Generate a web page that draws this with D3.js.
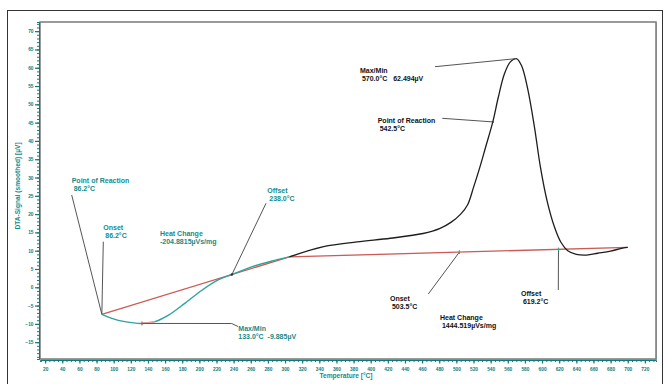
<!DOCTYPE html>
<html>
<head>
<meta charset="utf-8">
<script src="https://cdn.jsdelivr.net/npm/d3@7"></script>
<style>
  html, body { margin: 0; padding: 0; background: #fff; }
  svg { display: block; }
  text { font-family: "Liberation Sans", Arial, sans-serif; font-weight: bold; }
</style>
</head>
<body>
<svg id="chart" width="666" height="384"></svg>
<script>
// DTA measurement: temperature (°C) vs smoothed DTA signal (µV)
const firstPeakTemp  = [86.2, 97.8, 113, 133, 148, 164, 183, 203, 222, 238, 261, 285, 305];
const firstPeakValue = [-7.4, -8.5, -9.4, -9.885, -9.4, -7.6, -4.4, -0.8, 2.0, 3.5, 5.6, 7.2, 8.3];

const mainTemp  = [305, 345, 384, 423, 461, 481, 494, 505, 513, 520, 527, 534, 542.5, 549, 556, 563, 570, 576, 583, 591, 598, 606, 614.6, 622, 630, 640, 652, 665, 680, 694, 700];
const mainValue = [8.3, 11.1, 12.4, 13.4, 14.7, 16.1, 17.8, 20.0, 22.5, 27.3, 32.5, 38.2, 45.2, 52.0, 58.3, 61.6, 62.494, 60.6, 54.5, 44.0, 33.0, 23.5, 16.4, 12.3, 10.0, 9.0, 8.8, 9.3, 9.9, 10.7, 10.9];

// Baselines used for the two peak integrations
const baseline1Temp  = [86.2, 305];
const baseline1Value = [-7.4, 8.3];
const baseline2Temp  = [305, 700];
const baseline2Value = [8.3, 10.9];

const yTicks = [70, 65, 60, 55, 50, 45, 40, 35, 30, 25, 20, 15, 10, 5, 0, -5, -10, -15];
const xTicks = d3.range(20, 721, 20);

const svg = d3.select("#chart");
const x = d3.scaleLinear().domain([14, 733]).range([40, 656]);
const y = d3.scaleLinear().domain([-19.6, 72.5]).range([359, 22]);

const TEAL_TEXT = "#138c8a";
const TEAL_AXIS = "#0f7b78";
const TEAL_LINE = "#2aa59c";
const RED_LINE  = "#cc5a55";
const POINTER   = "#555";

// outer frame
svg.append("rect").attr("x", 7.5).attr("y", 10.5).attr("width", 655).attr("height", 380)
  .attr("fill", "none").attr("stroke", "#333").attr("stroke-width", 1);

// plot area
svg.append("rect").attr("x", 41).attr("y", 23).attr("width", 616).attr("height", 337)
  .attr("fill", "#bbb");
svg.append("rect").attr("x", 40).attr("y", 22).attr("width", 616).attr("height", 337)
  .attr("fill", "#fff").attr("stroke", "#7a7a7a").attr("stroke-width", 1.5);

// y axis (ticks outside to the left)
const yMinor = d3.range(-19, 73, 1);
svg.append("g").attr("transform", "translate(39,0)")
  .call(d3.axisLeft(y).tickValues(yMinor).tickSize(2).tickFormat(""))
  .call(g => g.select(".domain").attr("stroke", TEAL_AXIS).attr("stroke-width", 1))
  .call(g => g.selectAll(".tick line").attr("stroke", TEAL_AXIS));
svg.append("g").attr("transform", "translate(39,0)")
  .call(d3.axisLeft(y).tickValues(yTicks).tickSize(4).tickPadding(1.5).tickFormat(d3.format("d")))
  .call(g => g.select(".domain").remove())
  .call(g => g.selectAll(".tick line").attr("stroke", TEAL_AXIS).attr("stroke-width", 1.2))
  .call(g => g.selectAll(".tick text").attr("fill", TEAL_AXIS).attr("font-size", 4.8)
    .attr("font-family", "Liberation Sans, Arial, sans-serif").attr("font-weight", "bold"));

// x axis (ticks below)
const xMinor = d3.range(15, 733, 5);
svg.append("g").attr("transform", "translate(0,360)")
  .call(d3.axisBottom(x).tickValues(xMinor).tickSize(2).tickFormat(""))
  .call(g => g.select(".domain").attr("stroke", TEAL_AXIS).attr("stroke-width", 1))
  .call(g => g.selectAll(".tick line").attr("stroke", TEAL_AXIS));
svg.append("g").attr("transform", "translate(0,360)")
  .call(d3.axisBottom(x).tickValues(xTicks).tickSize(3.5).tickPadding(4).tickFormat(d3.format("d")))
  .call(g => g.select(".domain").remove())
  .call(g => g.selectAll(".tick line").attr("stroke", TEAL_AXIS).attr("stroke-width", 1.2))
  .call(g => g.selectAll(".tick text").attr("fill", TEAL_AXIS).attr("font-size", 4.8)
    .attr("font-family", "Liberation Sans, Arial, sans-serif").attr("font-weight", "bold"));

// axis titles
svg.append("text").attr("x", 346).attr("y", 377.5).attr("text-anchor", "middle")
  .attr("font-size", 6.6).attr("fill", TEAL_TEXT).text("Temperature  [°C]");
svg.append("text").attr("transform", "translate(19.5,186) rotate(-90)").attr("text-anchor", "middle")
  .attr("font-size", 6.6).attr("fill", TEAL_TEXT).text("DTA-Signal (smoothed)  [µV]");

const line = d3.line().x(d => x(d[0])).y(d => y(d[1])).curve(d3.curveCatmullRom.alpha(0.5));
const zip = (a, b) => a.map((t, i) => [t, b[i]]);

// baselines
svg.append("path").datum(zip(baseline1Temp, baseline1Value)).attr("d", d3.line().x(d => x(d[0])).y(d => y(d[1])))
  .attr("fill", "none").attr("stroke", RED_LINE).attr("stroke-width", 1.3);
svg.append("path").datum(zip(baseline2Temp, baseline2Value)).attr("d", d3.line().x(d => x(d[0])).y(d => y(d[1])))
  .attr("fill", "none").attr("stroke", RED_LINE).attr("stroke-width", 1.3);

// signal
svg.append("path").datum(zip(firstPeakTemp, firstPeakValue)).attr("d", line)
  .attr("fill", "none").attr("stroke", TEAL_LINE).attr("stroke-width", 1.4);
svg.append("path").datum(zip(mainTemp, mainValue)).attr("d", line)
  .attr("fill", "none").attr("stroke", "#1e1e1e").attr("stroke-width", 1.3);

// minimum marker segment
const minSeg = zip(firstPeakTemp, firstPeakValue).filter(d => d[0] >= 133 && d[0] <= 148);
svg.append("path").datum(minSeg).attr("d", d3.line().x(d => x(d[0])).y(d => y(d[1])))
  .attr("fill", "none").attr("stroke", "#f0a0a0").attr("stroke-width", 1.6);

// evaluation results: marked point, pointer path (pixel offsets), label lines
const baseAt = (t, ts, vs) => vs[0] + (t - ts[0]) / (ts[1] - ts[0]) * (vs[1] - vs[0]);
const notes = [
  { t: 86.2, v: -7.4, path: [[71.7, 195]], at: [71.7, 183.3], lines: ["Point of Reaction", " 86.2°C"], color: TEAL_TEXT },
  { t: 86.2, v: -7.4, path: [[103.3, 241.7]], at: [103.3, 230], lines: ["Onset", " 86.2°C"], color: TEAL_TEXT },
  { at: [160, 236], lines: ["Heat Change", "-204.8815µVs/mg"], color: TEAL_TEXT },
  { t: 238.0, v: baseAt(238.0, baseline1Temp, baseline1Value), path: [[266, 203.3]], at: [267.3, 192.7], lines: ["Offset", " 238.0°C"], color: TEAL_TEXT },
  { t: 133.0, v: -9.885, path: [[231.7, 323.5], [238, 326.5]], at: [238.3, 331], lines: ["Max/Min", "133.0°C  -9.885µV"], color: TEAL_TEXT },
  { t: 570.0, v: 62.494, path: [[435, 66.7]], at: [360, 72.7], lines: ["Max/Min", " 570.0°C   62.494µV"], color: "#111" },
  { t: 542.5, v: 45.2, path: [[442.3, 118.3]], at: [377.7, 123.3], lines: ["Point of Reaction", " 542.5°C"], color: "#111" },
  { t: 503.5, v: baseAt(503.5, baseline2Temp, baseline2Value), path: [[428.3, 294]], at: [390, 301.3], lines: ["Onset", " 503.5°C"], color: "#111" },
  { at: [440, 320.3], lines: ["Heat Change", " 1444.519µVs/mg"], color: "#111" },
  { t: 619.2, v: baseAt(619.2, baseline2Temp, baseline2Value), path: [[558.3, 290]], at: [521, 296], lines: ["Offset", " 619.2°C"], color: "#111" }
];

notes.forEach(n => {
  if (n.path) {
    const pts = [[x(n.t), y(n.v)], ...n.path];
    svg.append("path").attr("d", d3.line()(pts)).attr("fill", "none")
      .attr("stroke", POINTER).attr("stroke-width", 1);
  }
  const txt = svg.append("text").attr("x", n.at[0]).attr("y", n.at[1])
    .attr("font-size", 7).attr("fill", n.color).attr("xml:space", "preserve");
  n.lines.forEach((s, i) => {
    txt.append("tspan").attr("x", n.at[0]).attr("y", n.at[1] + i * 8).text(s);
  });
});

// small point markers on baselines
[503.5, 619.2].forEach(t => {
  const v = baseAt(t, baseline2Temp, baseline2Value);
  svg.append("line").attr("x1", x(t)).attr("x2", x(t)).attr("y1", y(v) - 1.8).attr("y2", y(v) + 1.8)
    .attr("stroke", "#3aa88a").attr("stroke-width", 1.2);
});
svg.append("circle").attr("cx", x(238)).attr("cy", y(baseAt(238, baseline1Temp, baseline1Value))).attr("r", 1.2).attr("fill", "#333");
svg.append("circle").attr("cx", x(542.5)).attr("cy", y(45.2)).attr("r", 1).attr("fill", "#333");
svg.append("line").attr("x1", x(133)).attr("x2", x(133)).attr("y1", y(-9.885) - 2).attr("y2", y(-9.885) + 2)
  .attr("stroke", "#c44").attr("stroke-width", 1);
</script>
</body>
</html>
